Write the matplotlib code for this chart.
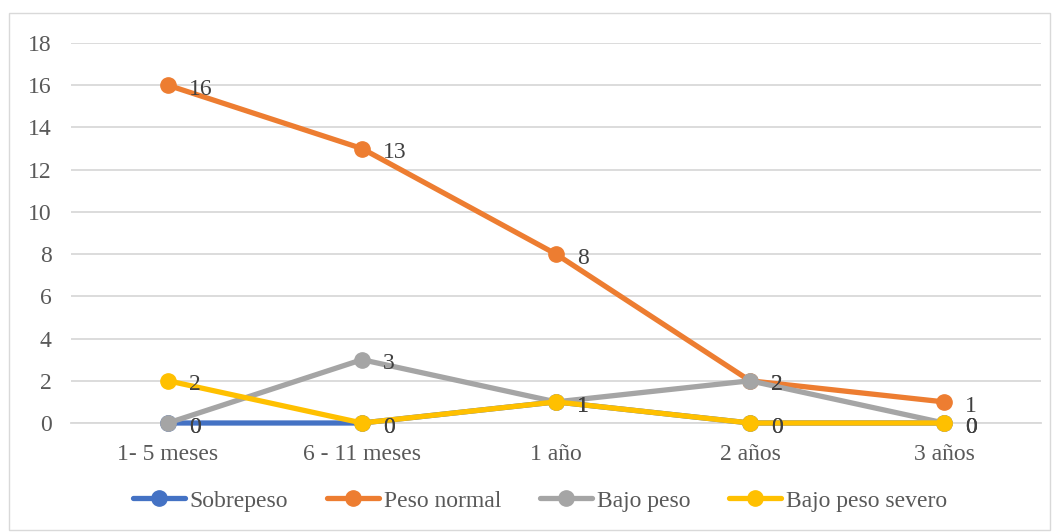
import matplotlib
matplotlib.use("Agg")
import matplotlib.pyplot as plt
from matplotlib.patches import Rectangle

categories = ["1- 5 meses", "6 - 11 meses", "1 año", "2 años", "3 años"]
sobrepeso = [0, 0, 1, 0, 0]
peso_normal = [16, 13, 8, 2, 1]
bajo_peso = [0, 3, 1, 2, 0]
bajo_peso_severo = [2, 0, 1, 0, 0]
y_ticks = [0, 2, 4, 6, 8, 10, 12, 14, 16, 18]

series = [
    ("Sobrepeso", sobrepeso, "#4472C4"),
    ("Peso normal", peso_normal, "#ED7D31"),
    ("Bajo peso", bajo_peso, "#A5A5A5"),
    ("Bajo peso severo", bajo_peso_severo, "#FFC000"),
]

plt.rcParams["font.family"] = ["Liberation Serif", "DejaVu Serif"]
text_color = "#595959"
fs = 17

W, H = 1055, 532
fig = plt.figure(figsize=(W / 100, H / 100), dpi=100)
fig.patches.append(Rectangle((9 / W, 2 / H), 1041 / W, 517 / H, transform=fig.transFigure,
                             fill=False, edgecolor="#D9D9D9", linewidth=1.0))

ax = fig.add_axes([71 / W, 1 - 423 / H, 970 / W, 380 / H])
x = list(range(len(categories)))

for name, vals, color in series:
    ax.plot(x, vals, color=color, linewidth=3.8, marker="o", markersize=11,
            label=name, solid_capstyle="round", zorder=3)
    for xi, v in zip(x, vals):
        ax.annotate(str(v), (xi, v), xytext=(15, -3), textcoords="offset points",
                    ha="left", va="center", fontsize=fs, color="#404040", zorder=4)

ax.set_xlim(-0.5, len(categories) - 0.5)
ax.set_ylim(0, 18)
ax.set_yticks(y_ticks)
ax.set_xticks(x)
ax.set_xticklabels(categories)
ax.grid(axis="y", color="#D9D9D9", linewidth=1.3, zorder=0)
ax.set_axisbelow(True)
for s in ["top", "right", "left"]:
    ax.spines[s].set_visible(False)
ax.spines["bottom"].set_color("#D9D9D9")
ax.spines["bottom"].set_linewidth(1.3)
ax.tick_params(axis="both", length=0, labelsize=fs, colors=text_color)
ax.tick_params(axis="y", pad=14)
ax.tick_params(axis="x", pad=15)
for line in ax.lines:
    line.set_clip_on(False)

leg = fig.legend(loc="center", bbox_to_anchor=(540 / W, 1 - 501 / H), ncol=4,
                 frameon=False, fontsize=fs, handlelength=2.2, columnspacing=1.65,
                 handletextpad=0.2)
for t in leg.get_texts():
    t.set_color(text_color)

fig.savefig("out.png", dpi=100, facecolor="white")
